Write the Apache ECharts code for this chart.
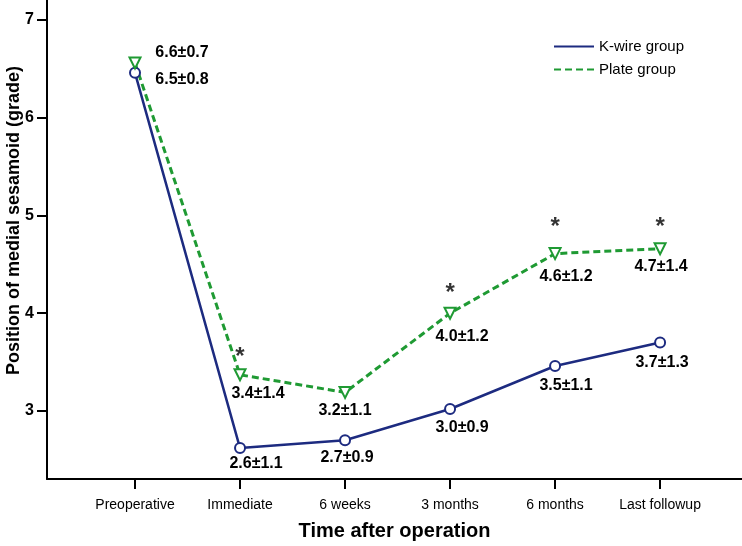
<!DOCTYPE html>
<html>
<head>
<meta charset="utf-8">
<script src="https://cdn.jsdelivr.net/npm/echarts@6/dist/echarts.min.js"></script>
<style>html,body{margin:0;padding:0;background:#fff;}#c{width:742px;height:546px;}</style>
</head>
<body>
<div id="c"></div>
<script>
const categories = ['Preoperative', 'Immediate', '6 weeks', '3 months', '6 months', 'Last followup'];
const kwireValues = [6.46, 2.62, 2.70, 3.02, 3.46, 3.70];
const plateValues = [6.56, 3.37, 3.19, 4.00, 4.61, 4.66];
const kwireLabels = ['6.5±0.8', '2.6±1.1', '2.7±0.9', '3.0±0.9', '3.5±1.1', '3.7±1.3'];
const plateLabels = ['6.6±0.7', '3.4±1.4', '3.2±1.1', '4.0±1.2', '4.6±1.2', '4.7±1.4'];
const significant = [false, true, false, true, true, true];
const yTicks = [3, 4, 5, 6, 7];

// label placement (style only)
const kwireOffsets = [[47, 7], [16, 15], [2, 17], [12, 19], [11, 20], [2, 20]];
const plateOffsets = [[47, -10], [18, 19], [0, 18], [12, 23], [11, 23], [1, 18]];
const starOffsets = [0, -17, 0, -20, -26, -21];

const NAVY = '#1d2b80';
const GREEN = '#1f9a33';
const FONT = 'Liberation Sans, Arial, sans-serif';
const labelFont = {fontFamily: FONT, fontWeight: 'bold', fontSize: 16, color: '#000'};

function buildSeriesData(values, labels, offsets) {
  return values.map((v, i) => ({
    value: [i, v],
    label: Object.assign({show: true, formatter: labels[i], position: 'inside', offset: offsets[i], align: 'center', verticalAlign: 'middle'}, labelFont)
  }));
}

const starData = plateValues.map((v, i) => significant[i] ? {value: [i, v], label: {offset: [0, starOffsets[i]]}} : null).filter(d => d);
const tickIdx = categories.map((c, i) => i);

const chart = echarts.init(document.getElementById('c'));
chart.setOption({
  backgroundColor: '#fff',
  animation: false,
  grid: {left: 47, right: 0, top: 0, bottom: 67, containLabel: false, outerBoundsMode: 'none'},
  legend: {
    orient: 'vertical', left: 548, top: 34, itemWidth: 40, itemHeight: 14, itemGap: 8,
    textStyle: {fontFamily: FONT, fontSize: 15, color: '#000'},
    itemStyle: {opacity: 0},
    data: ['K-wire group', 'Plate group']
  },
  xAxis: {
    type: 'value', min: -0.838, max: 5.78,
    name: 'Time after operation', nameLocation: 'middle', nameGap: 52, nameMoveOverlap: false,
    nameTextStyle: {fontFamily: FONT, fontWeight: 'bold', fontSize: 20, color: '#000', verticalAlign: 'middle'},
    splitLine: {show: false},
    axisLine: {onZero: false, lineStyle: {color: '#000', width: 2}},
    axisTick: {customValues: tickIdx, length: 10, lineStyle: {color: '#000', width: 2}},
    axisLabel: {customValues: tickIdx, formatter: v => categories[Math.round(v)] || '', margin: 19,
      fontFamily: FONT, fontSize: 14, color: '#000'}
  },
  yAxis: {
    type: 'value', min: 2.304, max: 7.205,
    name: 'Position of medial sesamoid (grade)', nameLocation: 'middle', nameGap: 33, nameMoveOverlap: false,
    nameTextStyle: {fontFamily: FONT, fontWeight: 'bold', fontSize: 18, color: '#000', verticalAlign: 'middle', padding: [0, 0, 0, 38]},
    splitLine: {show: false},
    axisLine: {show: true, onZero: false, lineStyle: {color: '#000', width: 2}},
    axisTick: {show: true, customValues: yTicks, length: 10, lineStyle: {color: '#000', width: 2}},
    axisLabel: {customValues: yTicks, margin: 13, fontFamily: FONT, fontWeight: 'bold', fontSize: 16, color: '#000'}
  },
  series: [
    {
      name: 'K-wire group', type: 'line', data: buildSeriesData(kwireValues, kwireLabels, kwireOffsets),
      symbol: 'emptyCircle', symbolSize: 10,
      lineStyle: {color: NAVY, width: 2.5},
      itemStyle: {color: NAVY, borderColor: NAVY, borderWidth: 2}
    },
    {
      name: 'Plate group', type: 'line', data: buildSeriesData(plateValues, plateLabels, plateOffsets),
      symbol: 'triangle', symbolRotate: 180, symbolSize: 11,
      lineStyle: {color: GREEN, width: 3, type: [7, 4]},
      itemStyle: {color: '#fff', borderColor: GREEN, borderWidth: 2}
    },
    {
      name: 'sig', type: 'scatter', data: starData, symbolSize: 0, silent: true,
      label: {show: true, formatter: '*', position: 'inside', fontFamily: FONT, fontWeight: 'bold', fontSize: 24, color: '#000'}
    }
  ]
});
</script>
</body>
</html>
